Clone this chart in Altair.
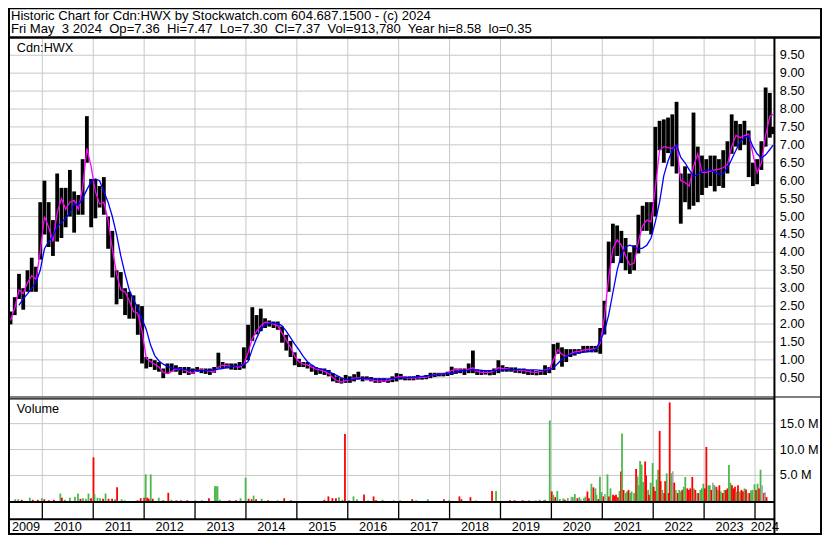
import altair as alt
import pandas as pd

# ---------------- data ----------------
START_YEAR, START_MONTH = 2009, 5          # first monthly bar (May 2009)
T_START, T_END = 2009.36, 2024.385         # extent of the time axis (fractional years)

PRICE_HI = [
    2.35, 2.75, 3.4, 3.0, 3.5, 3.85, 3.6, 5.4,                               # 2009 May-Dec
    6.0, 5.4, 4.9, 6.2, 5.8, 5.8, 6.3, 5.7, 5.6, 6.6, 7.8, 6.05,             # 2010
    6.05, 5.85, 6.1, 5.0, 4.6, 3.5, 3.45, 3.0, 2.9, 2.8, 2.55, 2.5,          # 2011
    1.08, 1.03, 0.99, 0.94, 0.76, 0.9, 0.9, 0.85, 0.8, 0.8, 0.8, 0.76,       # 2012
    0.8, 0.76, 0.76, 0.76, 0.8, 1.2, 0.94, 0.9, 0.9, 0.9, 0.94, 1.35,        # 2013
    1.98, 2.47, 2.25, 2.43, 2.16, 2.1, 2.07, 2.07, 1.93, 1.7, 1.53, 1.21,    # 2014
    1.03, 0.94, 0.94, 0.85, 0.8, 0.76, 0.76, 0.72, 0.63, 0.54, 0.49, 0.58,   # 2015
    0.54, 0.6, 0.67, 0.54, 0.54, 0.52, 0.49, 0.49, 0.49, 0.46, 0.54, 0.63,   # 2016
    0.61, 0.54, 0.54, 0.54, 0.58, 0.54, 0.58, 0.64, 0.64, 0.64, 0.64, 0.67,  # 2017
    0.81, 0.76, 0.76, 0.76, 0.9, 1.26, 0.73, 0.72, 0.7, 0.72, 0.76, 0.99,    # 2018
    0.85, 0.8, 0.79, 0.79, 0.76, 0.76, 0.72, 0.72, 0.69, 0.72, 0.85, 0.8,    # 2019
    1.44, 1.48, 1.35, 1.3, 1.3, 1.3, 1.3, 1.39, 1.39, 1.39, 1.39, 1.89,      # 2020
    2.65, 4.3, 4.8, 4.75, 4.6, 4.4, 4.0, 4.2, 5.05, 5.3, 5.4, 5.4,           # 2021
    7.5, 7.67, 7.71, 7.76, 7.85, 8.2, 6.2, 6.4, 6.2, 7.9, 6.95, 6.7,         # 2022
    6.6, 6.7, 6.7, 6.6, 6.85, 7.1, 7.85, 7.67, 7.58, 7.67, 7.4, 6.5,         # 2023
    6.6, 7.1, 8.6, 8.45, 7.5,                                                # 2024 Jan-May
]
PRICE_LO = [
    1.99, 2.25, 2.7, 2.4, 2.9, 2.9, 2.9, 3.8,
    4.5, 4.15, 3.9, 4.3, 4.4, 4.7, 5.0, 4.55, 5.05, 5.05, 6.5, 4.7,
    4.95, 5.25, 5.05, 4.1, 3.3, 2.55, 2.7, 2.25, 2.15, 2.15, 1.7, 0.9,
    0.76, 0.8, 0.72, 0.67, 0.49, 0.61, 0.67, 0.67, 0.58, 0.63, 0.58, 0.61,
    0.67, 0.63, 0.61, 0.58, 0.64, 0.76, 0.76, 0.76, 0.73, 0.72, 0.72, 0.76,
    0.99, 1.53, 1.71, 1.8, 1.89, 1.93, 1.89, 1.84, 1.48, 1.26, 1.08, 0.85,
    0.8, 0.8, 0.76, 0.67, 0.58, 0.61, 0.58, 0.54, 0.4, 0.36, 0.34, 0.36,
    0.36, 0.4, 0.45, 0.4, 0.43, 0.4, 0.36, 0.36, 0.38, 0.36, 0.38, 0.4,
    0.45, 0.43, 0.43, 0.43, 0.45, 0.45, 0.46, 0.49, 0.52, 0.54, 0.54, 0.55,
    0.58, 0.61, 0.63, 0.58, 0.63, 0.63, 0.58, 0.58, 0.59, 0.57, 0.58, 0.63,
    0.67, 0.67, 0.67, 0.64, 0.63, 0.61, 0.58, 0.58, 0.57, 0.58, 0.58, 0.63,
    0.72, 1.17, 0.81, 0.94, 1.08, 1.12, 1.17, 1.21, 1.21, 1.21, 1.21, 1.17,
    1.71, 2.9, 3.7, 3.9, 3.7, 3.5, 3.4, 3.5, 3.97, 4.6, 4.6, 4.5,
    5.0, 6.85, 6.5, 6.77, 6.4, 6.2, 4.8, 5.4, 5.2, 5.3, 5.4, 5.6,
    5.8, 5.85, 5.7, 5.85, 5.8, 6.2, 6.75, 6.95, 6.85, 7.0, 6.1, 5.85,
    5.9, 6.3, 6.95, 7.2, 7.3,
]
MA_SHORT = [
    2.1, 2.45, 2.95, 2.85, 3.15, 3.35, 3.25, 4.0,
    5.0, 4.7, 4.3, 5.1, 5.5, 5.2, 5.4, 5.45, 5.2, 5.8, 6.9, 6.4,
    5.7, 5.35, 5.4, 4.9, 4.1, 3.4, 2.95, 2.9, 2.65, 2.35, 2.3, 1.8,
    1.05, 0.95, 0.88, 0.8, 0.65, 0.62, 0.68, 0.75, 0.74, 0.72, 0.66, 0.63,
    0.71, 0.72, 0.71, 0.69, 0.67, 0.8, 0.85, 0.84, 0.82, 0.81, 0.8, 0.88,
    1.2, 1.6, 1.8, 1.95, 2.05, 2.03, 2.0, 1.95, 1.75, 1.55, 1.35, 1.1,
    0.95, 0.88, 0.86, 0.8, 0.74, 0.72, 0.68, 0.62, 0.5, 0.42, 0.38, 0.42,
    0.45, 0.49, 0.5, 0.48, 0.46, 0.44, 0.42, 0.41, 0.41, 0.42, 0.46, 0.52,
    0.53, 0.5, 0.49, 0.49, 0.5, 0.51, 0.52, 0.56, 0.59, 0.61, 0.61, 0.63,
    0.71, 0.73, 0.72, 0.71, 0.74, 0.78, 0.68, 0.65, 0.65, 0.65, 0.7, 0.78,
    0.76, 0.75, 0.73, 0.72, 0.71, 0.7, 0.68, 0.66, 0.65, 0.68, 0.72, 0.74,
    1.0, 1.28, 1.15, 1.1, 1.17, 1.22, 1.24, 1.27, 1.29, 1.3, 1.32, 1.45,
    2.2, 3.3, 4.1, 4.35, 4.2, 3.9, 3.65, 3.7, 4.3, 4.75, 4.9, 4.85,
    5.8, 6.85, 6.95, 6.92, 6.9, 7.0, 6.0, 5.95, 5.85, 6.4, 6.75, 6.23,
    6.23, 6.27, 6.3, 6.32, 6.36, 6.45, 6.95, 7.26, 7.2, 7.26, 7.3, 6.75,
    6.22, 6.5, 7.26, 7.8, 7.85,
]
MA_LONG = [
    None, None, 2.53, 2.7, 2.84, 3.0, 3.16, 3.5,
    4.1, 4.3, 4.45, 4.72, 4.83, 4.95, 5.1, 5.36, 5.32, 5.5, 5.75, 5.97,
    6.05, 6.0, 5.7, 5.4, 5.0, 4.5, 3.9, 3.4, 2.95, 2.68, 2.45, 2.15,
    1.85, 1.42, 1.12, 0.97, 0.88, 0.82, 0.78, 0.76, 0.74, 0.73, 0.72, 0.71,
    0.7, 0.7, 0.7, 0.71, 0.72, 0.74, 0.76, 0.79, 0.81, 0.83, 0.84, 0.86,
    0.95, 1.3, 1.6, 1.85, 1.97, 2.02, 2.03, 2.02, 1.95, 1.8, 1.62, 1.44,
    1.28, 1.1, 0.95, 0.86, 0.78, 0.75, 0.72, 0.67, 0.62, 0.56, 0.5, 0.46,
    0.45, 0.46, 0.48, 0.49, 0.48, 0.47, 0.47, 0.46, 0.46, 0.47, 0.48, 0.49,
    0.5, 0.5, 0.51, 0.52, 0.53, 0.54, 0.55, 0.57, 0.58, 0.6, 0.61, 0.62,
    0.62, 0.66, 0.69, 0.7, 0.71, 0.72, 0.72, 0.71, 0.7, 0.7, 0.7, 0.71,
    0.72, 0.73, 0.73, 0.73, 0.73, 0.73, 0.72, 0.72, 0.72, 0.71, 0.71, 0.72,
    0.78, 0.9, 1.02, 1.1, 1.15, 1.18, 1.2, 1.21, 1.23, 1.25, 1.3, 1.53,
    1.8, 2.25, 2.88, 3.5, 3.95, 4.15, 4.2, 4.15, 4.1, 4.12, 4.2, 4.4,
    4.85, 5.4, 6.14, 6.55, 6.85, 7.0, 6.65, 6.5, 6.3, 6.12, 6.18, 6.25,
    6.3, 6.3, 6.23, 6.18, 6.2, 6.35, 6.6, 6.85, 7.08, 7.2, 7.25, 6.95,
    6.75, 6.63, 6.72, 6.87, 6.99,
]

# daily volume spikes (fractional year, millions of shares, up/down colour)
VOL_T = [
    2009.36, 2009.42, 2009.49, 2009.65, 2009.71, 2009.81, 2009.89, 2009.94, 2010.03, 2010.13,
    2010.26, 2010.29, 2010.35, 2010.45, 2010.55, 2010.61, 2010.66, 2010.71, 2010.77, 2010.82,
    2010.87, 2010.92, 2010.94, 2011.00, 2011.05, 2011.11, 2011.16, 2011.22, 2011.29, 2011.35,
    2011.39, 2011.48, 2011.54, 2011.80, 2011.86, 2011.93, 2011.96, 2011.99, 2012.02, 2012.06,
    2012.10, 2012.22, 2012.31, 2012.41, 2012.47, 2012.57, 2012.66, 2012.79, 2012.95, 2013.08,
    2013.22, 2013.34, 2013.36, 2013.39, 2013.44, 2013.63, 2013.76, 2013.85, 2013.95, 2014.01,
    2014.07, 2014.11, 2014.16, 2014.27, 2014.40, 2014.59, 2014.72, 2014.85, 2015.52, 2015.60,
    2015.68, 2015.75, 2015.81, 2015.88, 2015.93, 2016.01, 2016.10, 2016.17, 2016.31, 2016.39,
    2016.50, 2016.55, 2016.68, 2016.90, 2017.03, 2017.27, 2017.35, 2017.58, 2017.90, 2018.00,
    2018.21, 2018.25, 2018.43, 2018.54, 2018.86, 2018.94, 2019.22, 2019.31, 2019.47, 2019.60,
    2019.73, 2019.81, 2019.90, 2019.92, 2020.01, 2020.05, 2020.08, 2020.12, 2020.16, 2020.21,
    2020.28, 2020.31, 2020.37, 2020.44, 2020.47, 2020.51, 2020.56, 2020.60, 2020.63, 2020.69,
    2020.72, 2020.76, 2020.79, 2020.84, 2020.88, 2020.92, 2020.94, 2020.98, 2021.01, 2021.04,
    2021.08, 2021.11, 2021.16, 2021.19, 2021.22, 2021.27, 2021.30, 2021.33, 2021.37, 2021.40,
    2021.43, 2021.45, 2021.48, 2021.52, 2021.55, 2021.58, 2021.61, 2021.64, 2021.69, 2021.73,
    2021.76, 2021.79, 2021.81, 2021.84, 2021.87, 2021.91, 2021.93, 2021.97, 2021.99, 2022.02,
    2022.06, 2022.08, 2022.11, 2022.14, 2022.17, 2022.20, 2022.22, 2022.25, 2022.29, 2022.31,
    2022.34, 2022.38, 2022.40, 2022.43, 2022.46, 2022.49, 2022.52, 2022.56, 2022.59, 2022.62,
    2022.65, 2022.68, 2022.71, 2022.75, 2022.78, 2022.81, 2022.85, 2022.88, 2022.91, 2022.94,
    2022.97, 2023.01, 2023.04, 2023.07, 2023.10, 2023.13, 2023.17, 2023.20, 2023.23, 2023.26,
    2023.29, 2023.33, 2023.36, 2023.39, 2023.42, 2023.46, 2023.49, 2023.52, 2023.55, 2023.58,
    2023.61, 2023.64, 2023.67, 2023.70, 2023.73, 2023.76, 2023.80, 2023.83, 2023.86, 2023.89,
    2023.92, 2023.96, 2023.99, 2024.02, 2024.05, 2024.09, 2024.12, 2024.15, 2024.18, 2024.21,
    2024.24, 2024.28, 2024.30, 2024.33,
]
VOL_M = [
    0.4, 0.4, 0.3, 0.7, 0.3, 0.3, 0.6, 0.4, 0.2, 0.3,
    1.5, 0.7, 0.3, 0.7, 0.9, 1.5, 0.5, 0.6, 0.5, 1.5,
    0.6, 8.5, 1.4, 0.7, 0.6, 0.5, 1.5, 0.5, 0.5, 0.4,
    2.7, 0.4, 0.2, 0.2, 0.6, 0.7, 5.2, 0.7, 0.5, 5.2,
    0.5, 0.7, 0.2, 1.65, 0.3, 0.2, 0.2, 0.2, 0.2, 0.2,
    0.6, 2.9, 2.9, 2.9, 0.3, 0.2, 0.2, 0.6, 4.6, 0.5,
    0.4, 1.1, 0.4, 0.5, 0.2, 0.2, 0.6, 0.2, 0.3, 0.95,
    0.6, 0.6, 0.8, 0.3, 13.0, 0.2, 0.95, 0.4, 1.3, 0.2,
    0.95, 0.2, 0.3, 0.2, 0.2, 0.4, 0.2, 0.4, 0.4, 0.2,
    0.95, 0.4, 0.8, 0.2, 2.0, 2.0, 0.2, 0.2, 0.2, 0.2,
    0.2, 0.3, 0.2, 0.3, 15.6, 1.9, 1.25, 0.8, 2.0, 0.45,
    0.55, 0.3, 0.6, 0.9, 0.8, 1.4, 0.6, 0.8, 0.45, 0.6,
    0.9, 1.9, 0.6, 3.4, 2.7, 2.5, 1.25, 0.45, 4.75, 1.8,
    0.95, 1.4, 5.2, 0.95, 2.5, 1.25, 1.1, 1.25, 0.8, 2.0,
    5.75, 13.1, 2.2, 1.6, 1.9, 2.2, 1.6, 1.9, 1.6, 6.25,
    4.8, 3.1, 7.8, 7.1, 3.75, 7.7, 5.0, 2.2, 1.25, 3.6,
    7.4, 2.8, 2.0, 4.2, 6.1, 13.6, 3.9, 2.2, 1.6, 3.9,
    5.4, 1.6, 19.1, 5.4, 5.8, 3.6, 2.2, 1.6, 2.2, 1.9,
    2.2, 2.8, 4.7, 2.5, 2.2, 2.5, 4.7, 2.5, 2.2, 1.6,
    1.6, 2.2, 2.5, 3.4, 2.5, 10.5, 3.1, 3.1, 2.2, 3.6,
    3.1, 2.8, 2.2, 3.1, 1.9, 1.6, 2.2, 2.2, 2.5, 7.0,
    3.6, 3.1, 2.5, 2.8, 1.9, 3.1, 1.9, 2.2, 1.9, 2.5,
    2.3, 1.6, 1.6, 2.1, 2.2, 3.3, 2.2, 3.4, 2.5, 6.1,
    3.1, 1.6, 1.75, 0.8,
]
VOL_C = [
    "up", "up", "dn", "up", "dn", "dn", "up", "dn", "dn", "dn",
    "up", "dn", "up", "up", "up", "up", "dn", "up", "up", "up",
    "dn", "dn", "up", "up", "up", "dn", "up", "dn", "dn", "up",
    "dn", "up", "up", "dn", "dn", "dn", "up", "dn", "dn", "up",
    "dn", "up", "dn", "dn", "up", "dn", "dn", "dn", "up", "up",
    "dn", "up", "up", "up", "up", "dn", "dn", "up", "up", "dn",
    "dn", "up", "dn", "up", "dn", "up", "dn", "dn", "dn", "dn",
    "dn", "dn", "up", "up", "dn", "up", "up", "up", "dn", "eq",
    "dn", "dn", "up", "up", "up", "dn", "up", "up", "dn", "up",
    "dn", "dn", "dn", "eq", "dn", "up", "dn", "dn", "dn", "up",
    "eq", "up", "dn", "up", "up", "dn", "up", "dn", "up", "up",
    "up", "dn", "up", "eq", "up", "up", "dn", "up", "eq", "up",
    "up", "dn", "dn", "up", "dn", "up", "up", "dn", "up", "up",
    "dn", "eq", "up", "dn", "up", "dn", "dn", "dn", "dn", "up",
    "dn", "up", "dn", "up", "up", "dn", "up", "up", "up", "dn",
    "up", "up", "up", "up", "up", "dn", "dn", "up", "dn", "up",
    "up", "dn", "dn", "up", "up", "dn", "dn", "up", "dn", "dn",
    "up", "dn", "dn", "up", "eq", "dn", "up", "dn", "up", "up",
    "dn", "up", "up", "dn", "dn", "dn", "dn", "up", "dn", "eq",
    "dn", "up", "up", "up", "dn", "dn", "up", "up", "dn", "eq",
    "up", "dn", "up", "dn", "up", "dn", "up", "dn", "dn", "up",
    "up", "dn", "dn", "dn", "up", "dn", "up", "dn", "dn", "up",
    "dn", "eq", "dn", "up", "up", "up", "dn", "up", "dn", "up",
    "eq", "dn", "eq", "dn",
]

PRICE_TICKS = [0.5, 1.0, 1.5, 2.0, 2.5, 3.0, 3.5, 4.0, 4.5, 5.0,
               5.5, 6.0, 6.5, 7.0, 7.5, 8.0, 8.5, 9.0, 9.5]
VOL_TICKS = [5, 10, 15]
YEARS = list(range(2009, 2025))

TITLE_1 = "Historic Chart for Cdn:HWX by Stockwatch.com 604.687.1500 - (c) 2024"
TITLE_2 = ("Fri May\u00a0 3 2024\u00a0 Op=7.36\u00a0 Hi=7.47\u00a0 Lo=7.30\u00a0 Cl=7.37\u00a0 "
           "Vol=913,780\u00a0 Year hi=8.58\u00a0 lo=0.35")

# ---------------- layout (reference pixels scaled into the page) ----------------
W, H = 814, 527
SX, SY = W / 830, H / 543
def px(x): return x * SX
def py(y): return y * SY

FONT = "Liberation Sans"
GRID = "#c8c8c8"
X_SCALE = alt.Scale(domain=[2010, 2024], range=[px(35), px(761.7)], nice=False, zero=False)
P_SCALE = alt.Scale(domain=[0, 10], range=[py(399.5), py(30.2)], nice=False, zero=False)
V_SCALE = alt.Scale(domain=[0, 20], range=[py(508.3), py(401.6)], nice=False, zero=False)

# ---------------- tables ----------------
t_month = []
for i in range(len(PRICE_HI)):
    k = START_MONTH - 1 + i
    t_month.append(START_YEAR + k // 12 + (k % 12 + 0.5) / 12)
t_month[-1] = min(t_month[-1], T_END - 0.03)
price = pd.DataFrame({"t": t_month, "hi": PRICE_HI, "lo": PRICE_LO,
                      "ma_s": MA_SHORT, "ma_l": MA_LONG})
vol = pd.DataFrame({"t": VOL_T, "v": VOL_M, "c": VOL_C})
pticks = pd.DataFrame({"p": PRICE_TICKS, "lab": [f"{p:.2f}" for p in PRICE_TICKS]})
vticks = pd.DataFrame({"v": VOL_TICKS, "lab": [f"{v:.1f} M" for v in VOL_TICKS]})
bounds = pd.DataFrame({"yr": [y for y in YEARS if y >= 2010]})
ylabs = pd.DataFrame({"yr": [str(y) for y in YEARS],
                      "mid": [(max(y, T_START) + min(y + 1, T_END)) / 2 for y in YEARS]})

X = lambda f: alt.X(f, scale=X_SCALE, axis=None)
one = alt.Data(values=[{}])

def seg(x1, x2, y1, y2, w=1.0, color="black"):
    return alt.Chart(one).mark_rule(color=color, strokeWidth=w).encode(
        x=alt.value(px(x1)), x2=alt.value(px(x2)), y=alt.value(py(y1)), y2=alt.value(py(y2)))

def label(txt, x, y, size=12.7, align="left"):
    return alt.Chart(pd.DataFrame({"s": [txt]})).mark_text(
        align=align, baseline="middle", font=FONT, fontSize=size, color="black"
    ).encode(text="s:N", x=alt.value(px(x)), y=alt.value(py(y)))

layers = []
# grid
layers.append(alt.Chart(pticks).mark_rule(color=GRID, strokeWidth=1).encode(
    y=alt.Y("p:Q", scale=P_SCALE, axis=None), x=alt.value(px(2)), x2=alt.value(px(781))))
layers.append(alt.Chart(vticks).mark_rule(color=GRID, strokeWidth=1).encode(
    y=alt.Y("v:Q", scale=V_SCALE, axis=None), x=alt.value(px(2)), x2=alt.value(px(781))))
layers.append(alt.Chart(bounds).mark_rule(color=GRID, strokeWidth=1).encode(
    x=X("yr:Q"), y=alt.value(py(31)), y2=alt.value(py(400))))
layers.append(alt.Chart(bounds).mark_rule(color=GRID, strokeWidth=1).encode(
    x=X("yr:Q"), y=alt.value(py(403)), y2=alt.value(py(508))))
layers.append(alt.Chart(bounds).mark_rule(color="black", strokeWidth=1.3).encode(
    x=X("yr:Q"), y=alt.value(py(509)), y2=alt.value(py(527))))

# price bars and averages
layers.append(alt.Chart(price).mark_rule(color="black", strokeWidth=3.8).encode(
    x=X("t:Q"), y=alt.Y("lo:Q", scale=P_SCALE, axis=None), y2="hi:Q"))
layers.append(alt.Chart(price).mark_line(color="#ff00ff", strokeWidth=1.3).encode(
    x=X("t:Q"), y=alt.Y("ma_s:Q", scale=P_SCALE, axis=None)))
layers.append(alt.Chart(price).transform_filter("datum.ma_l != null").mark_line(
    color="#0000ff", strokeWidth=1.3).encode(
    x=X("t:Q"), y=alt.Y("ma_l:Q", scale=P_SCALE, axis=None)))

# volume
layers.append(alt.Chart(vol).mark_bar(width=1.8).encode(
    x=X("t:Q"), y=alt.Y("v:Q", scale=V_SCALE, axis=None),
    color=alt.Color("c:N", scale=alt.Scale(domain=["up", "dn", "eq"],
                                           range=["#4cb84c", "#ff0000", "#a8a8a8"]), legend=None)))

# frame
layers += [
    seg(0, 830, 0.5, 0.5, 1.5),
    seg(0, 830, 30.5, 30.5, 2.5),
    seg(1, 1, 0, 543, 2),
    seg(829, 829, 0, 543, 2),
    seg(781.5, 781.5, 30, 543, 2),
    seg(0, 830, 400.8, 400.8, 1.2),
    seg(0, 781.5, 402.8, 402.8, 1.2),
    seg(0, 781.5, 509, 509, 2),
    seg(0, 781.5, 526.8, 526.8, 2),
    seg(0, 830, 542, 542, 2),
]

# texts
layers += [
    label(TITLE_1, 3, 8.2, 13.1),
    label(TITLE_2, 3, 22, 13.1),
    label("Cdn:HWX", 9, 41.5),
    label("Volume", 9, 413),
]
layers.append(alt.Chart(pticks).mark_text(align="left", baseline="middle", font=FONT,
                                          fontSize=12.7, color="black").encode(
    text="lab:N", y=alt.Y("p:Q", scale=P_SCALE, axis=None), x=alt.value(px(787))))
layers.append(alt.Chart(vticks).mark_text(align="left", baseline="middle", font=FONT,
                                          fontSize=12.7, color="black").encode(
    text="lab:N", y=alt.Y("v:Q", scale=V_SCALE, axis=None), x=alt.value(px(787))))
layers.append(alt.Chart(ylabs).mark_text(align="center", baseline="middle", font=FONT,
                                         fontSize=12.7, color="black").encode(
    text="yr:N", x=X("mid:Q"), y=alt.value(py(535))))

chart = alt.layer(*layers).resolve_scale(x="independent", y="independent", color="independent").properties(
    width=W, height=H, autosize=alt.AutoSizeParams(type="none"), padding=0,
    background="white",
).configure_view(stroke=None)

chart.save("out.html", embed_options={"renderer": "svg", "actions": False})
